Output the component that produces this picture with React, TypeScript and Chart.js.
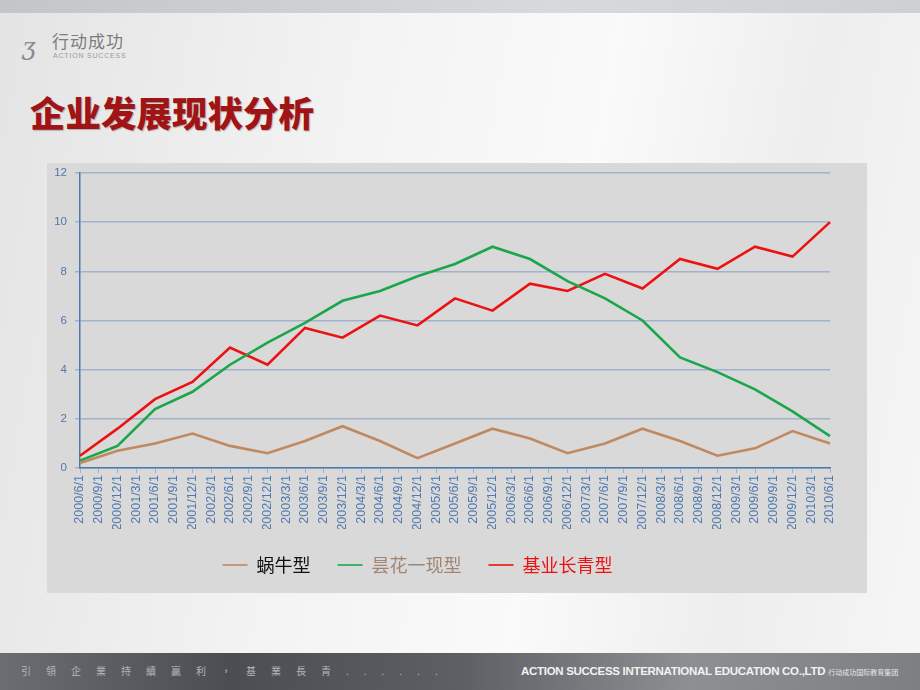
import React, { useEffect, useRef } from "react";
import { Chart, registerables } from "chart.js";

Chart.register(...registerables);

const categories = [
  "2000/6/1", "2000/9/1", "2000/12/1", "2001/3/1", "2001/6/1", "2001/9/1", "2001/12/1",
  "2002/3/1", "2002/6/1", "2002/9/1", "2002/12/1", "2003/3/1", "2003/6/1", "2003/9/1",
  "2003/12/1", "2004/3/1", "2004/6/1", "2004/9/1", "2004/12/1", "2005/3/1", "2005/6/1",
  "2005/9/1", "2005/12/1", "2006/3/1", "2006/6/1", "2006/9/1", "2006/12/1", "2007/3/1",
  "2007/6/1", "2007/9/1", "2007/12/1", "2008/3/1", "2008/6/1", "2008/9/1", "2008/12/1",
  "2009/3/1", "2009/6/1", "2009/9/1", "2009/12/1", "2010/3/1", "2010/6/1",
];

const sampleDates = [
  "2000/6/1", "2000/12/1", "2001/6/1", "2001/12/1", "2002/6/1", "2002/12/1", "2003/6/1",
  "2003/12/1", "2004/6/1", "2004/12/1", "2005/6/1", "2005/12/1", "2006/6/1", "2006/12/1",
  "2007/6/1", "2007/12/1", "2008/6/1", "2008/12/1", "2009/6/1", "2009/12/1", "2010/6/1",
];

const snailValues = [0.2, 0.7, 1.0, 1.4, 0.9, 0.6, 1.1, 1.7, 1.1, 0.4, 1.0, 1.6, 1.2, 0.6, 1.0, 1.6, 1.1, 0.5, 0.8, 1.5, 1.0];
const flashValues = [0.3, 0.9, 2.4, 3.1, 4.2, 5.1, 5.9, 6.8, 7.2, 7.8, 8.3, 9.0, 8.5, 7.6, 6.9, 6.0, 4.5, 3.9, 3.2, 2.3, 1.3];
const evergreenValues = [0.5, 1.6, 2.8, 3.5, 4.9, 4.2, 5.7, 5.3, 6.2, 5.8, 6.9, 6.4, 7.5, 7.2, 7.9, 7.3, 8.5, 8.1, 9.0, 8.6, 10.0];

const seriesNames = ["蜗牛型", "昙花一现型", "基业长青型"];
const yTicks = [0, 2, 4, 6, 8, 10, 12];

const lineColors = ["#c0895f", "#1ba64c", "#ee1111"];
const legendTextColors = ["#111111", "#a08672", "#ee1111"];
const axisColor = "#4f78ad";
const gridColor = "#a2b1cc";

const legendShift = {
  id: "legendShift",
  afterLayout(chart: any) {
    if (chart.legend) {
      chart.legend.left -= 21;
      chart.legend.right -= 21;
    }
  },
};

function ChartBox() {
  const ref = useRef<HTMLCanvasElement | null>(null);
  useEffect(() => {
    if (!ref.current) return;
    const series = [snailValues, flashValues, evergreenValues];
    const chart = new Chart(ref.current, {
      type: "line",
      data: {
        labels: categories,
        datasets: series.map((vals, i) => ({
          label: seriesNames[i],
          data: vals.map((v, j) => ({ x: sampleDates[j], y: v })),
          borderColor: lineColors[i],
          backgroundColor: lineColors[i],
          borderWidth: 2.6,
          pointRadius: 0,
          tension: 0,
        })),
      },
      plugins: [legendShift],
      options: {
        responsive: false,
        animation: false,
        layout: { padding: { left: 0, right: 37, top: 10, bottom: 9 } },
        plugins: {
          tooltip: { enabled: false },
          legend: {
            position: "bottom",
            labels: {
              boxWidth: 25,
              boxHeight: 1.6,
              padding: 27,
              font: { family: "'Noto Sans CJK SC', sans-serif", size: 18 },
              generateLabels: (c: any) =>
                c.data.datasets.map((ds: any, i: number) => ({
                  text: ds.label,
                  fillStyle: lineColors[i],
                  strokeStyle: lineColors[i],
                  lineWidth: 0,
                  fontColor: legendTextColors[i],
                  hidden: false,
                  datasetIndex: i,
                })),
            },
          },
        },
        scales: {
          x: {
            type: "category",
            offset: false,
            afterFit: (s: any) => { s.height = 61; },
            border: { display: true, color: axisColor, width: 1.5 },
            grid: { drawOnChartArea: false, drawTicks: true, tickLength: 5, color: gridColor, lineWidth: 1 },
            ticks: {
              autoSkip: false,
              maxRotation: 90,
              minRotation: 90,
              padding: 2,
              color: axisColor,
              font: { family: "'Liberation Sans', Arial, sans-serif", size: 12.5 },
            },
          },
          y: {
            min: 0,
            max: 12,
            afterFit: (s: any) => { s.width = 33; s.paddingTop = 0; s.paddingBottom = 0; },
            afterBuildTicks: (s: any) => { s.ticks = yTicks.map((v) => ({ value: v })); },
            border: { display: true, color: axisColor, width: 1.5 },
            grid: { color: gridColor, lineWidth: 1.5, tickLength: 5 },
            ticks: {
              padding: 8,
              color: axisColor,
              font: { family: "'Liberation Sans', Arial, sans-serif", size: 11.5 },
            },
          },
        },
      },
    });
    return () => chart.destroy();
  }, []);
  return <canvas ref={ref} width={820} height={430} style={{ display: "block" }} />;
}

export default function App() {
  return (
    <div
      style={{
        position: "fixed",
        left: 0,
        top: 0,
        width: 920,
        height: 690,
        overflow: "hidden",
        background: "linear-gradient(100deg, #e4e4e4 0%, #f3f3f3 35%, #fafafa 60%, #eeeeee 80%, #f6f6f6 100%)",
        fontFamily: "'Noto Sans CJK SC', sans-serif",
      }}
    >
      <div style={{ position: "absolute", left: 0, top: 0, width: 920, height: 13, background: "linear-gradient(90deg, #c4c5c7, #d8d9da 60%, #cfd0d1)" }} />
      <div style={{ position: "absolute", left: 22, top: 32, width: 22, height: 30, color: "#8a8a8a", fontSize: 24, fontStyle: "italic", lineHeight: "30px", fontFamily: "'DejaVu Serif', serif" }}>ʒ</div>
      <div style={{ position: "absolute", left: 52, top: 30, color: "#7d7d7d", fontSize: 17, lineHeight: "22px", letterSpacing: 1 }}>行动成功</div>
      <div style={{ position: "absolute", left: 53, top: 52, color: "#9a9a9a", fontSize: 7, lineHeight: "8px", letterSpacing: 0.8, fontFamily: "'Liberation Sans', sans-serif" }}>ACTION SUCCESS</div>
      <div style={{ position: "absolute", left: 30, top: 88, color: "#a11416", fontSize: 35.5, fontWeight: 900, lineHeight: "48px", textShadow: "1px 1px 1px rgba(0,0,0,0.25)" }}>企业发展现状分析</div>
      <div style={{ position: "absolute", left: 47, top: 163, width: 820, height: 430, background: "#d9d9d9" }}>
        <ChartBox />
      </div>
      <div style={{ position: "absolute", left: 0, top: 653, width: 920, height: 37, background: "linear-gradient(90deg, #6a6e72 0%, #4a4e52 25%, #5c6064 50%, #8d9093 75%, #7d8083 100%)" }} />
      <div style={{ position: "absolute", left: 21, top: 663, color: "#b4b6b8", fontSize: 10, lineHeight: "16px", letterSpacing: 15, fontFamily: "'Noto Sans CJK TC', sans-serif", whiteSpace: "nowrap" }}>引領企業持續贏利，基業長青......</div>
      <div style={{ position: "absolute", left: 521, top: 663, color: "#f2f2f2", fontSize: 11.5, fontWeight: 700, lineHeight: "16px", fontFamily: "'Liberation Sans', sans-serif", whiteSpace: "nowrap", letterSpacing: -0.3 }}>
        ACTION SUCCESS INTERNATIONAL EDUCATION CO.,LTD
        <span style={{ display: "inline-block", marginLeft: 3, fontWeight: 400, fontSize: 7, fontFamily: "'Noto Sans CJK SC', sans-serif", color: "#e6e6e6", letterSpacing: 0 }}>行动成功国际教育集团</span>
      </div>
    </div>
  );
}
